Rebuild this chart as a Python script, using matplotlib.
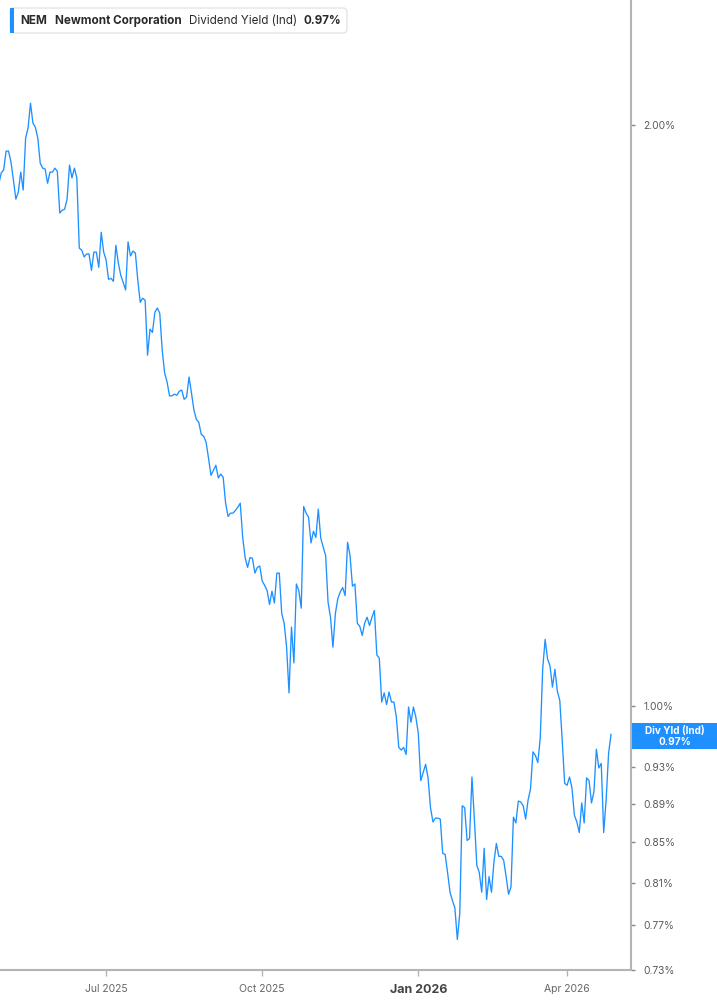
import numpy as np
import pandas as pd
import matplotlib
matplotlib.use('Agg')
import matplotlib.pyplot as plt
from matplotlib.patches import FancyBboxPatch, Rectangle
from matplotlib.ticker import FixedLocator, NullLocator, FuncFormatter
from matplotlib.transforms import IdentityTransform

plt.rcParams['font.family'] = ['Inter', 'DejaVu Sans']

# NYSE holidays in the window, so the x axis runs on trading days
holidays = ['2025-05-26', '2025-06-19', '2025-07-04', '2025-09-01', '2025-11-27',
            '2025-12-25', '2026-01-01', '2026-01-19', '2026-02-16', '2026-04-03']
trading_days = pd.bdate_range('2025-04-28', '2026-04-28', freq='C', holidays=holidays)

# NEM dividend yield (%), one value per trading day
yield_pct = [
    1.864, 1.889, 1.896, 1.939, 1.939, 1.914, 1.873, 1.831, 1.846, 1.891,
    1.851, 1.969, 1.993, 2.053, 2.005, 1.995, 1.969, 1.911, 1.900, 1.898,
    1.866, 1.891, 1.891, 1.900, 1.893, 1.801, 1.807, 1.809, 1.831, 1.907,
    1.878, 1.900, 1.878, 1.727, 1.723, 1.709, 1.715, 1.715, 1.682, 1.719,
    1.719, 1.688, 1.760,
    1.719, 1.703, 1.664, 1.666, 1.660, 1.733, 1.697, 1.672, 1.658, 1.643,
    1.740, 1.711, 1.721, 1.717, 1.662, 1.619, 1.627, 1.623, 1.520, 1.568,
    1.562, 1.600, 1.608, 1.598, 1.529, 1.488, 1.472, 1.448, 1.448, 1.451,
    1.449, 1.456, 1.458, 1.442, 1.446, 1.481, 1.453, 1.424, 1.408, 1.403,
    1.383, 1.380, 1.370, 1.344, 1.317, 1.325, 1.333, 1.313, 1.319, 1.314,
    1.274, 1.254, 1.259, 1.259, 1.263, 1.268, 1.274, 1.223, 1.194, 1.180,
    1.194, 1.193, 1.172, 1.180, 1.182, 1.161, 1.155, 1.148, 1.129, 1.147,
    1.131, 1.172, 1.172, 1.117, 1.104, 1.073, 1.016, 1.099, 1.053, 1.157,
    1.148, 1.124,
    1.269, 1.259, 1.253, 1.215, 1.232, 1.223, 1.265, 1.222, 1.209, 1.197,
    1.132, 1.112, 1.073, 1.117, 1.137, 1.146, 1.152, 1.141, 1.216, 1.197,
    1.154, 1.157, 1.104, 1.100, 1.088, 1.104, 1.112, 1.101, 1.112, 1.121,
    1.063, 1.059, 1.005, 1.016, 1.002, 1.017, 1.005, 1.005, 0.987, 0.952,
    0.949, 0.952, 0.944, 0.999,
    0.981, 0.999, 0.987, 0.968, 0.915, 0.924, 0.933, 0.918, 0.886, 0.871,
    0.875, 0.875, 0.874, 0.839, 0.838, 0.820, 0.801, 0.793, 0.786, 0.757,
    0.781, 0.888, 0.886, 0.852, 0.854, 0.919, 0.873, 0.827, 0.820, 0.801,
    0.844, 0.794, 0.816, 0.801, 0.830, 0.849, 0.836, 0.836, 0.832, 0.816,
    0.799, 0.806,
    0.876, 0.870, 0.893, 0.892, 0.888, 0.874, 0.894, 0.906, 0.947, 0.943,
    0.935, 0.963, 1.046, 1.083, 1.058, 1.049, 1.023, 1.045, 1.018, 1.007,
    0.960, 0.912, 0.910, 0.919, 0.907, 0.878, 0.871, 0.860, 0.891, 0.870,
    0.918, 0.915, 0.891, 0.903, 0.950, 0.929, 0.934, 0.860, 0.894, 0.945,
    0.967,
]

y_ticks = [0.73, 0.77, 0.81, 0.85, 0.89, 0.93, 1.00, 2.00]
x_tick_months = ['2025-07', '2025-10', '2026-01', '2026-04']
x_tick_labels = ['Jul 2025', 'Oct 2025', 'Jan 2026', 'Apr 2026']
last_label = '0.97%'

blue = '#1e90ff'
grey = '#b4b4b4'

dates = trading_days[:len(yield_pct)]
xpos = np.arange(len(dates))

fig = plt.figure(figsize=(7.17, 10.05), dpi=100)
ax = fig.add_axes([0, 35 / 1005, 631 / 717, 970 / 1005])
ax.plot(xpos, yield_pct, color=blue, lw=0.95)

ax.set_yscale('log')
ax.set_ylim(0.730, 2.322)
ax.set_xlim(0.5, 259.2)

for s in ['left', 'top']:
    ax.spines[s].set_visible(False)
for s in ['right', 'bottom']:
    ax.spines[s].set_color(grey)
    ax.spines[s].set_linewidth(1.5)

ax.yaxis.tick_right()
ax.yaxis.set_major_locator(FixedLocator(y_ticks))
ax.yaxis.set_minor_locator(NullLocator())
ax.yaxis.set_major_formatter(FuncFormatter(lambda v, p: f'{v:.2f}%'))
ax.tick_params(axis='y', length=3, width=1, color='#888888', pad=6,
               labelsize=7.4, labelcolor='#5a5a5a')

month_str = dates.strftime('%Y-%m')
tick_idx = [int(np.argmax(month_str == m)) for m in x_tick_months]
ax.set_xticks(tick_idx)
ax.set_xticklabels(x_tick_labels)
ax.tick_params(axis='x', length=4, width=1, color=grey, pad=6,
               labelsize=7.5, labelcolor='#666666')
for lab in ax.get_xticklabels():
    if lab.get_text().startswith('Jan'):
        lab.set_fontweight('bold')
        lab.set_fontsize(9)
        lab.set_color('#444444')

# last value tag on the right axis
fig.add_artist(Rectangle((632, 1005 - 749), 85, 26, transform=IdentityTransform(),
                         facecolor=blue, edgecolor='none'))
fig.text(675 / 717, 1 - 731 / 1005, 'Div Yld (Ind)', ha='center', va='center',
         color='white', fontsize=7.2, fontweight='bold')
fig.text(675 / 717, 1 - 742 / 1005, last_label, ha='center', va='center',
         color='white', fontsize=7.2, fontweight='bold')

# legend box in the upper left
fig.add_artist(FancyBboxPatch((10, 1005 - 33), 337, 25, transform=IdentityTransform(),
                              boxstyle='round,pad=0,rounding_size=4',
                              facecolor='white', edgecolor='#e4e4e4', lw=1))
fig.add_artist(Rectangle((10, 1005 - 33), 3.5, 25, transform=IdentityTransform(),
                         facecolor=blue, edgecolor='none'))
legend_parts = [(20.5, 'NEM', 'bold'), (55, 'Newmont Corporation', 'bold'),
                (189, 'Dividend Yield (Ind)', 'normal'), (303, last_label, 'bold')]
for px, txt, w in legend_parts:
    fig.text(px / 717, 1 - 21 / 1005, txt, ha='left', va='center',
             color='#2a2a2a', fontsize=8.4, fontweight=w)

fig.savefig('out.png', dpi=100)
